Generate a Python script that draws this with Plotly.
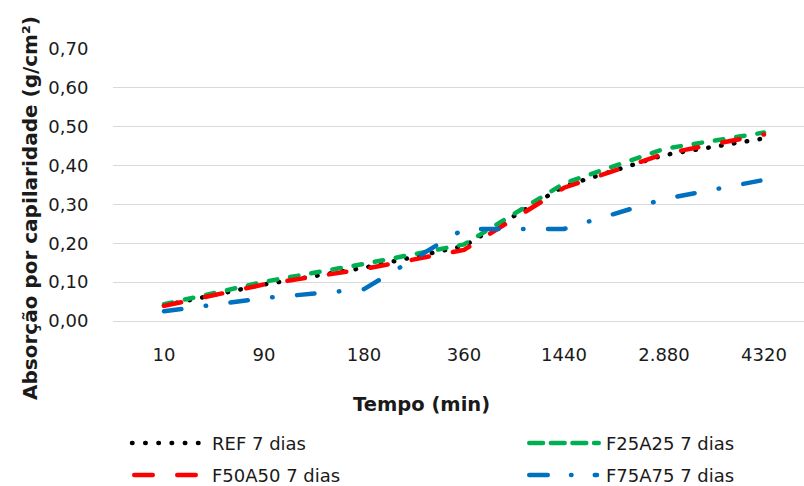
import plotly.graph_objects as go

# Capillary absorption test (g/cm²) over time, 7-day specimens
tempo = ["10", "90", "180", "360", "1440", "2.880", "4320"]
ref_7d = [0.040, 0.094, 0.137, 0.193, 0.347, 0.427, 0.470]
f25a25_7d = [0.043, 0.101, 0.147, 0.197, 0.354, 0.443, 0.485]
f50a50_7d = [0.039, 0.094, 0.134, 0.183, 0.343, 0.430, 0.480]
f75a75_7d = [0.025, 0.059, 0.082, 0.237, 0.237, 0.314, 0.363]

nomes = ["REF 7 dias", "F25A25 7 dias", "F50A50 7 dias", "F75A75 7 dias"]
cores = ["#000000", "#00B050", "#FF0000", "#0070C0"]
tracos = ["0.5px,12.5px", "8.5px,13px", "17.5px,24.5px", "17.5px,24.5px,0.5px,24.5px"]
series = [ref_7d, f25a25_7d, f50a50_7d, f75a75_7d]

W, H = 804, 486
ML, MR, MT, MB = 113, 0, 49, 165
PW, PH = W - ML - MR, H - MT - MB

FONT = "DejaVu Sans"
TXT = "#1a1a1a"

fig = go.Figure()
for nome, vals, cor, dash in zip(nomes, series, cores, tracos):
    fig.add_trace(go.Scatter(
        x=tempo, y=vals, name=nome, mode="lines",
        line=dict(color=cor, width=4.5, dash=dash),
        showlegend=False, hoverinfo="skip",
    ))


def px_x(p):
    return (p - ML) / PW


def px_y(p):
    return (H - MB - p) / PH


# Hand-drawn legend in two columns
amostras = [
    (132.0, 198.6, 443, "0.5px,12.7px", 210),
    (529.25, 598.75, 443, "13.8px,7.8px", 604),
    (134.25, 195.75, 475, "18.5px,24.5px", 210),
    (529.25, 597.0, 475, "18.5px,23.25px,0.5px,23.25px", 604),
]
shapes = []
annotations = []
for (x0, x1, yy, dash, xt), nome, cor in zip(amostras, nomes, cores):
    shapes.append(dict(
        type="line", xref="paper", yref="paper",
        x0=px_x(x0), x1=px_x(x1), y0=px_y(yy), y1=px_y(yy),
        line=dict(color=cor, width=4.5, dash=dash),
    ))
    annotations.append(dict(
        text=nome, xref="paper", yref="paper", x=px_x(xt), y=px_y(yy),
        xanchor="left", yanchor="middle", showarrow=False,
        font=dict(family=FONT, size=18, color=TXT),
    ))

# Axis titles
annotations.append(dict(
    text="<b>Tempo (min)</b>", xref="paper", yref="paper",
    x=px_x(421), y=px_y(404), xanchor="center", yanchor="middle",
    showarrow=False, font=dict(family=FONT, size=19.5, color=TXT),
))
annotations.append(dict(
    text="<b>Absorção por capilaridade (g/cm²)</b>", xref="paper", yref="paper",
    x=px_x(30), y=px_y(208), xanchor="center", yanchor="middle",
    textangle=-90, showarrow=False, font=dict(family=FONT, size=20, color=TXT),
))

fig.update_layout(
    width=W, height=H,
    margin=dict(l=ML, r=MR, t=MT, b=MB, pad=0),
    paper_bgcolor="white", plot_bgcolor="white",
    separators=",.",
    shapes=shapes, annotations=annotations,
    showlegend=False,
)
fig.update_xaxes(
    type="category", range=[-0.51, 6.40],
    showgrid=False, zeroline=False,
    showline=True, linecolor="#d9d9d9", linewidth=1.3,
    ticks="outside", ticklen=17, tickcolor="rgba(0,0,0,0)",
    tickfont=dict(family=FONT, size=18, color=TXT),
)
fig.update_yaxes(
    range=[0, 0.70], dtick=0.1, tick0=0, tickformat=".2f",
    showgrid=True, gridcolor="#d9d9d9", gridwidth=1.3,
    zeroline=False, showline=False,
    ticks="outside", ticklen=20, tickcolor="rgba(0,0,0,0)",
    tickfont=dict(family=FONT, size=18, color=TXT),
)

# Round line caps, as in the original spreadsheet chart
round_caps = (
    "document.querySelectorAll('.js-line, .shapelayer path')"
    ".forEach(function(p){p.style.strokeLinecap='round';});"
)
fig.write_html("out.html", post_script=round_caps)
